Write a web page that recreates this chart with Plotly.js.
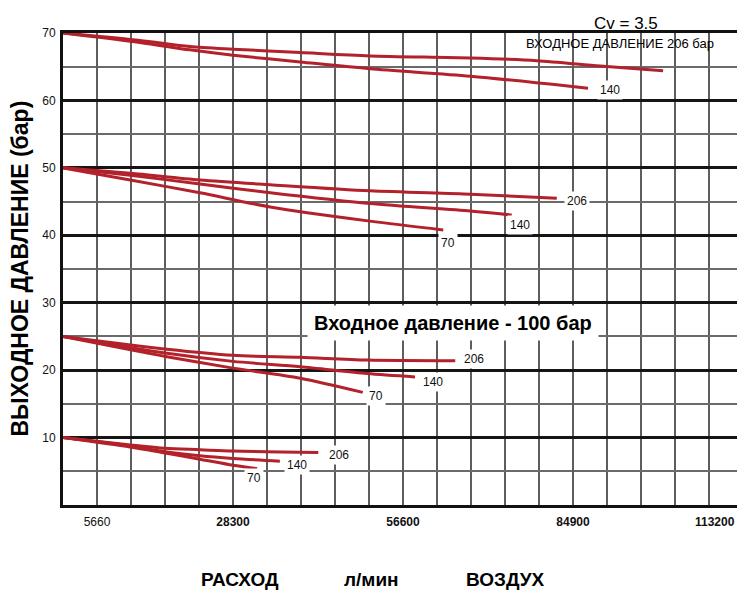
<!DOCTYPE html>
<html>
<head>
<meta charset="utf-8">
<script src="https://cdn.plot.ly/plotly-3.0.1.min.js"></script>
<style>html,body{margin:0;padding:0;background:#fff;}#chart{width:737px;height:592px;}</style>
</head>
<body>
<div id="chart"></div>
<script>
// ---- Data (x: flow, l/min air; y: outlet pressure, bar) ----
// Outlet set 70 bar
const top206_x = [0, 12800, 21100, 28300, 39500, 51100, 67800, 78900, 89400, 99900];
const top206_y = [70, 68.9, 68.0, 67.6, 67.1, 66.6, 66.3, 65.9, 65.1, 64.4];
const top140_x = [0, 12800, 21100, 28300, 39500, 51100, 67800, 84400, 87400];
const top140_y = [70, 68.6, 67.5, 66.7, 65.7, 64.7, 63.6, 62.1, 61.8];
// Outlet set 50 bar
const g50_206_x = [0, 11200, 22800, 34500, 51100, 67800, 82200];
const g50_206_y = [50, 49.2, 48.2, 47.5, 46.6, 46.1, 45.5];
const g50_140_x = [0, 11200, 22800, 34500, 51100, 67800, 74700];
const g50_140_y = [50, 48.9, 47.6, 46.3, 44.7, 43.6, 43.0];
const g50_70_x = [0, 11200, 22800, 34500, 51100, 63300];
const g50_70_y = [50, 48.2, 46.3, 44.2, 42.1, 40.8];
// Outlet set 25 bar
const g25_206_x = [0, 17300, 28300, 39500, 50600, 65300];
const g25_206_y = [25, 23.1, 22.2, 21.9, 21.5, 21.4];
const g25_140_x = [0, 17300, 28300, 39500, 50600, 58600];
const g25_140_y = [25, 22.5, 21.3, 20.5, 19.5, 19.0];
const g25_70_x = [0, 17300, 28300, 39500, 49900];
const g25_70_y = [25, 22.0, 20.3, 18.8, 16.7];
// Outlet set 10 bar
const g10_206_x = [0, 11200, 17000, 22800, 28300, 42500];
const g10_206_y = [10, 8.9, 8.4, 8.2, 8.0, 7.8];
const g10_140_x = [0, 11200, 17000, 22800, 28300, 36100];
const g10_140_y = [10, 8.75, 7.9, 7.3, 6.9, 6.5];
const g10_70_x = [0, 11200, 17000, 22800, 28300, 32300];
const g10_70_y = [10, 8.6, 7.7, 6.8, 5.9, 5.4];

// Tick labels
const xTickVals = [5660, 28300, 56600, 84900];
const xTickText = ['5660', '<b>28300</b>', '<b>56600</b>', '<b>84900</b>'];
const xLastTick = '113200';
const yTickVals = [10, 20, 30, 40, 50, 60, 70];

// Texts
const yTitle = 'ВЫХОДНОЕ ДАВЛЕНИЕ (бар)';
const xTitleParts = ['РАСХОД', 'л/мин', 'ВОЗДУХ'];
const cvText = 'Cv = 3.5';
const inlet206Text = 'ВХОДНОЕ ДАВЛЕНИЕ 206 бар';
const inlet100Text = 'Входное давление - 100 бар';

// ---- Series definitions (label + label offset in px) ----
const series = [
  {x: top206_x, y: top206_y, label: null},
  {x: top140_x, y: top140_y, label: '140', dx: 9, dy: 2},
  {x: g50_206_x, y: g50_206_y, label: '206', dx: 7, dy: 3},
  {x: g50_140_x, y: g50_140_y, label: '140', dx: -5, dy: 10},
  {x: g50_70_x, y: g50_70_y, label: '70', dx: -5, dy: 13},
  {x: g25_206_x, y: g25_206_y, label: '206', dx: 6, dy: -2},
  {x: g25_140_x, y: g25_140_y, label: '140', dx: 5, dy: 5},
  {x: g25_70_x, y: g25_70_y, label: '70', dx: 3, dy: 4},
  {x: g10_206_x, y: g10_206_y, label: '206', dx: 8, dy: 3},
  {x: g10_140_x, y: g10_140_y, label: '140', dx: 4, dy: 4},
  {x: g10_70_x, y: g10_70_y, label: '70', dx: -13, dy: 9}
];

const FONT = 'Liberation Sans, Arial, sans-serif';
const traces = series.map(s => ({
  type: 'scatter', mode: 'lines', x: s.x, y: s.y,
  line: {color: '#b3212b', width: 3, shape: 'spline', smoothing: 0.8},
  hoverinfo: 'skip', showlegend: false
}));

const annotations = [];
series.forEach(s => {
  if (!s.label) return;
  annotations.push({
    x: s.x[s.x.length - 1], y: s.y[s.y.length - 1], xref: 'x', yref: 'y',
    text: s.label, showarrow: false, xanchor: 'left', yanchor: 'middle',
    xshift: s.dx, yshift: -s.dy, bgcolor: '#ffffff', borderpad: 2,
    font: {family: FONT, size: 12, color: '#111'}
  });
});

annotations.push(
  {xref: 'paper', yref: 'paper', x: 1, y: 0, xanchor: 'right', yanchor: 'top', yshift: -8,
   text: '<b>' + xLastTick + '</b>', showarrow: false, font: {family: FONT, size: 12, color: '#111'}},
  {xref: 'paper', yref: 'paper', x: -0.0645, y: 0.5, xanchor: 'center', yanchor: 'middle',
   textangle: -90, text: '<b>' + yTitle + '</b>', showarrow: false,
   font: {family: FONT, size: 23, color: '#000'}},
  {xref: 'paper', yref: 'paper', x: 0.836, y: 1.021, xanchor: 'center', yanchor: 'middle',
   text: cvText, showarrow: false, font: {family: FONT, size: 17, color: '#000'}},
  {xref: 'paper', yref: 'paper', x: 0.826, y: 0.977, xanchor: 'center', yanchor: 'middle',
   text: inlet206Text, showarrow: false, font: {family: FONT, size: 13, color: '#000'}},
  {xref: 'paper', yref: 'paper', x: 0.579, y: 0.385, xanchor: 'center', yanchor: 'middle',
   text: '<b>' + inlet100Text + '</b>', showarrow: false, bgcolor: '#ffffff', borderpad: 6,
   font: {family: FONT, size: 20, color: '#000'}}
);

const xTitleX = [0.262, 0.457, 0.656];
xTitleParts.forEach((t, i) => {
  annotations.push({xref: 'paper', yref: 'paper', x: xTitleX[i], y: -0.157,
    xanchor: 'center', yanchor: 'middle', text: '<b>' + t + '</b>', showarrow: false,
    font: {family: FONT, size: 19, color: '#000'}});
});

const layout = {
  width: 737, height: 592,
  margin: {l: 63, r: 0, t: 33, b: 87},
  paper_bgcolor: '#ffffff', plot_bgcolor: '#ffffff',
  font: {family: FONT, color: '#000'},
  xaxis: {
    range: [0, 112200], tickmode: 'array', tickvals: xTickVals, ticktext: xTickText,
    showgrid: true, gridcolor: '#5e5e5e', gridwidth: 2,
    minor: {tickmode: 'linear', tick0: 0, dtick: 5660, showgrid: true, gridcolor: '#5e5e5e', gridwidth: 2},
    showline: true, linecolor: '#111', linewidth: 3, mirror: true,
    ticks: '', zeroline: false, tickfont: {family: FONT, size: 12, color: '#111'},
    ticklabelstandoff: 4, fixedrange: true
  },
  yaxis: {
    range: [0, 70], tickmode: 'array', tickvals: yTickVals,
    showgrid: true, gridcolor: '#151515', gridwidth: 3,
    minor: {tickmode: 'linear', tick0: 0, dtick: 5, showgrid: true, gridcolor: '#6a6a6a', gridwidth: 2},
    showline: true, linecolor: '#111', linewidth: 3, mirror: false,
    ticks: '', zeroline: false, tickfont: {family: FONT, size: 12, color: '#111'},
    ticklabelstandoff: 2, fixedrange: true
  },
  annotations: annotations,
  showlegend: false
};

Plotly.newPlot('chart', traces, layout, {staticPlot: true, displayModeBar: false});
</script>
</body>
</html>
